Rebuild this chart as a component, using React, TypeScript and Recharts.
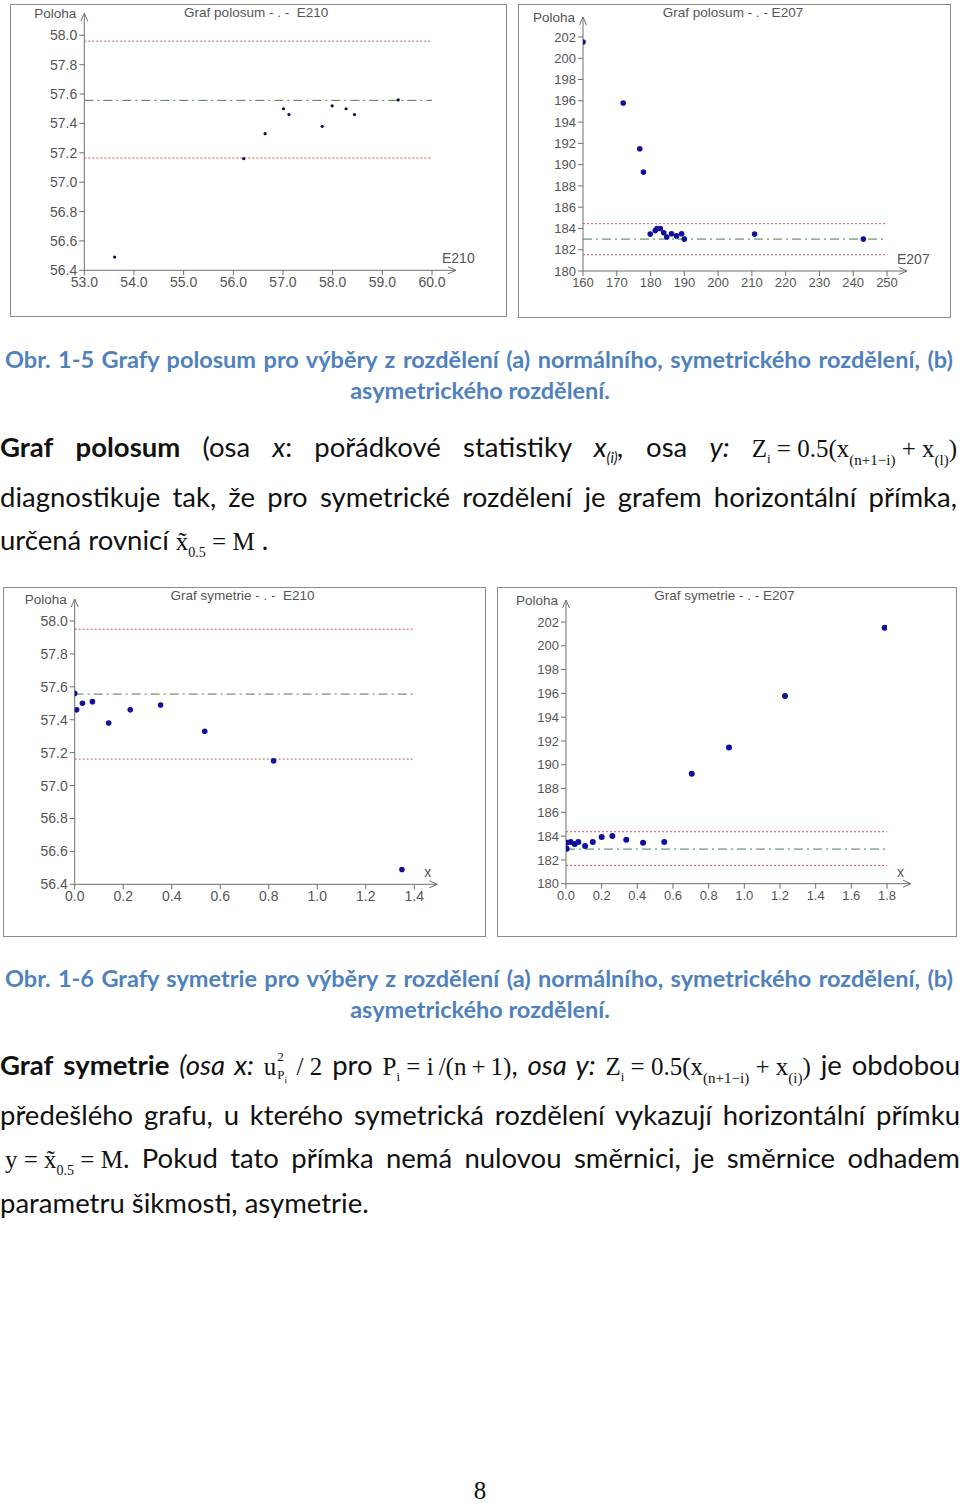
import React from 'react';
import { ScatterChart, Scatter, XAxis, YAxis, ReferenceLine } from 'recharts';

// Graf polosum, E210 (x = order statistic, y = Z_i)
const polosumE210X = [53.61, 56.21, 56.64, 57.01, 57.12, 57.79, 57.99, 58.27, 58.44, 59.32];
const polosumE210Y = [56.49, 57.16, 57.33, 57.5, 57.46, 57.38, 57.52, 57.5, 57.46, 57.56];
const polosumE210Lines = [57.96, 57.557, 57.165]; // upper, median, lower
const polosumE210XTicks = [53, 54, 55, 56, 57, 58, 59, 60];

// Graf polosum, E207
const polosumE207X = [160, 171.9, 176.8, 177.9, 179.9, 181.4, 181.9, 182.9, 183.9, 184.8, 186.2, 187.7, 189.2, 190.0, 210.8, 243.0];
const polosumE207Y = [201.53, 195.79, 191.5, 189.3, 183.47, 183.8, 184.0, 184.0, 183.6, 183.2, 183.5, 183.3, 183.5, 183.0, 183.47, 183.0];
const polosumE207Lines = [184.45, 183.0, 181.53];
const polosumE207XTicks = [160, 170, 180, 190, 200, 210, 220, 230, 240, 250];

// Graf symetrie, E210 (x = u^2/2)
const symetrieE210X = [0.0, 0.008, 0.032, 0.073, 0.14, 0.229, 0.354, 0.536, 0.82, 1.349];
const symetrieE210Y = [57.56, 57.46, 57.5, 57.51, 57.38, 57.46, 57.49, 57.33, 57.15, 56.49];
const symetrieE210Lines = [57.95, 57.556, 57.161];
const symetrieE210XTicks = [0, 0.2, 0.4, 0.6, 0.8, 1.0, 1.2, 1.4];

// Graf symetrie, E207
const symetrieE207X = [0.004, 0.005, 0.026, 0.049, 0.069, 0.107, 0.15, 0.2, 0.26, 0.338, 0.432, 0.551, 0.705, 0.914, 1.228, 1.787];
const symetrieE207Y = [182.94, 183.45, 183.5, 183.33, 183.5, 183.17, 183.5, 183.92, 184.0, 183.7, 183.45, 183.5, 189.25, 191.46, 195.78, 201.52];
const symetrieE207Lines = [184.37, 182.91, 181.54];
const symetrieE207XTicks = [0, 0.2, 0.4, 0.6, 0.8, 1.0, 1.2, 1.4, 1.6, 1.8];

const e210YTicks = [56.4, 56.6, 56.8, 57.0, 57.2, 57.4, 57.6, 57.8, 58.0];
const e207YTicks = [180, 182, 184, 186, 188, 190, 192, 194, 196, 198, 200, 202];

const AXIS = '#6e6e6e';
const LABEL = '#555';
const RED = '#cc5555';
const GREEN = '#4d7a4d';
const CHART_FONT = "'Liberation Sans', Arial, sans-serif";
const BODY = "Lato, 'Noto Sans', sans-serif";
const SERIF = "'Liberation Serif', 'Times New Roman', serif";
const CAPTION = '#4f81bd';

type Rect = [number, number, number, number]; // left, top, right, bottom (page px)

interface PanelProps {
  frame: Rect;
  plot: Rect;
  title: string;
  xLabel: string;
  xs: number[];
  ys: number[];
  lines: number[];
  xTicks: number[];
  yTicks: number[];
  xDigits: number;
  yDigits: number;
  fontSize: number;
  dotR: number;
  dotFill: string;
  yExt: number;
  xExt: number;
}

function Panel(p: PanelProps) {
  const [fl, ft, fr, fb] = p.frame;
  const [pl, pt, pr, pb] = p.plot;
  const w = fr - fl;
  const h = fb - ft;
  const yAxisW = 45;
  const xAxisH = 25;
  const data = p.xs.map((x, i) => ({ x, y: p.ys[i] }));
  const xDomain = [p.xTicks[0], p.xTicks[p.xTicks.length - 1]];
  const yDomain = [p.yTicks[0], p.yTicks[p.yTicks.length - 1]];
  const tick = { fontSize: p.fontSize, fill: LABEL, fontFamily: CHART_FONT };

  const yArrow = (s: any) => {
    const x = s.x1;
    const top = Math.min(s.y1, s.y2);
    const tip = top - p.yExt;
    return (
      <g>
        <line x1={x} y1={top} x2={x} y2={tip} stroke={AXIS} />
        <path d={`M${x - 3.5},${tip + 8} L${x},${tip} L${x + 3.5},${tip + 8}`} fill="none" stroke={AXIS} />
        <text x={x - 8} y={tip + 5} textAnchor="end" fontSize={13.5} fill={LABEL} fontFamily={CHART_FONT}>
          Poloha
        </text>
      </g>
    );
  };

  const xArrow = (s: any) => {
    const y = s.y1;
    const right = Math.max(s.x1, s.x2);
    const tip = right + p.xExt;
    return (
      <g>
        <line x1={right} y1={y} x2={tip} y2={y} stroke={AXIS} />
        <path d={`M${tip - 8},${y - 3.5} L${tip},${y} L${tip - 8},${y + 3.5}`} fill="none" stroke={AXIS} />
        <text x={right + 10} y={y - 7} fontSize={14} fill={LABEL} fontFamily={CHART_FONT}>
          {p.xLabel}
        </text>
      </g>
    );
  };

  return (
    <>
      <div
        style={{
          position: 'absolute',
          left: fl,
          top: ft,
          width: w,
          height: h,
          boxSizing: 'border-box',
          border: '1.5px solid #8c8c8c',
        }}
      />
      <div
        style={{
          position: 'absolute',
          left: (pl + pr) / 2 - 150 - 2,
          width: 300,
          top: ft + 1,
          textAlign: 'center',
          fontFamily: CHART_FONT,
          fontSize: 13.5,
          color: LABEL,
          whiteSpace: 'pre',
          lineHeight: '16px',
        }}
      >
        {p.title}
      </div>
      <div style={{ position: 'absolute', left: fl, top: ft }}>
        <ScatterChart
          width={w}
          height={h}
          margin={{
            left: pl - fl - yAxisW,
            top: pt - ft,
            right: fr - pr,
            bottom: fb - pb - xAxisH,
          }}
        >
          <XAxis
            type="number"
            dataKey="x"
            domain={xDomain}
            ticks={p.xTicks}
            interval={0}
            allowDataOverflow
            height={xAxisH}
            tickSize={5}
            stroke={AXIS}
            tick={tick}
            tickFormatter={(v: number) => v.toFixed(p.xDigits)}
          />
          <YAxis
            type="number"
            dataKey="y"
            domain={yDomain}
            ticks={p.yTicks}
            interval={0}
            allowDataOverflow
            width={yAxisW}
            tickSize={5}
            stroke={AXIS}
            tick={tick}
            tickFormatter={(v: number) => v.toFixed(p.yDigits)}
          />
          <ReferenceLine y={p.lines[0]} stroke={RED} strokeDasharray="2 2" />
          <ReferenceLine y={p.lines[1]} stroke={GREEN} strokeDasharray="9 4 2 4" />
          <ReferenceLine y={p.lines[2]} stroke={RED} strokeDasharray="2 2" />
          <ReferenceLine
            segment={[{ x: xDomain[0], y: yDomain[0] }, { x: xDomain[0], y: yDomain[1] }]}
            ifOverflow="visible"
            shape={yArrow}
          />
          <ReferenceLine
            segment={[{ x: xDomain[0], y: yDomain[0] }, { x: xDomain[1], y: yDomain[0] }]}
            ifOverflow="visible"
            shape={xArrow}
          />
          <Scatter
            data={data}
            isAnimationActive={false}
            shape={(s: any) => <circle cx={s.cx} cy={s.cy} r={p.dotR} fill={p.dotFill} />}
          />
        </ScatterChart>
      </div>
    </>
  );
}

function Line({
  top,
  size,
  children,
  left = 0,
  width = 960,
  align = 'left',
  color = '#111',
  weight = 400,
}: {
  top: number;
  size: number;
  children: React.ReactNode;
  left?: number;
  width?: number;
  align?: 'left' | 'center' | 'justify';
  color?: string;
  weight?: number;
}) {
  return (
    <div
      style={{
        position: 'absolute',
        top,
        left,
        width,
        fontFamily: BODY,
        fontSize: size,
        fontWeight: weight,
        color,
        lineHeight: `${Math.round(size * 1.25)}px`,
        textAlign: align,
        textAlignLast: align,
      }}
    >
      {children}
    </div>
  );
}

const math: React.CSSProperties = { fontFamily: SERIF, fontSize: 25, display: 'inline-block', fontStyle: 'normal', fontWeight: 400 };
const sub = (size = 15, top = 7): React.CSSProperties => ({ fontSize: size, position: 'relative', top });

const BODY_SIZE = 27.5;
const CAP_SIZE = 23.5;

export default function App() {
  return (
    <div style={{ position: 'absolute', left: 0, top: 0, width: 960, height: 1505, background: '#fff', overflow: 'hidden' }}>
      <Panel
        frame={[10, 4, 507, 317]}
        plot={[84.3, 35.3, 432, 270.3]}
        title={'Graf polosum - . -  E210'}
        xLabel="E210"
        xs={polosumE210X}
        ys={polosumE210Y}
        lines={polosumE210Lines}
        xTicks={polosumE210XTicks}
        yTicks={e210YTicks}
        xDigits={1}
        yDigits={1}
        fontSize={14}
        dotR={1.6}
        dotFill="#0a0a50"
        yExt={22}
        xExt={24}
      />
      <Panel
        frame={[518, 4, 951, 318]}
        plot={[583, 37, 887, 271]}
        title={'Graf polosum - . - E207'}
        xLabel="E207"
        xs={polosumE207X}
        ys={polosumE207Y}
        lines={polosumE207Lines}
        xTicks={polosumE207XTicks}
        yTicks={e207YTicks}
        xDigits={0}
        yDigits={0}
        fontSize={13}
        dotR={2.8}
        dotFill="#10109a"
        yExt={20}
        xExt={20}
      />
      <Panel
        frame={[3, 587, 486, 937]}
        plot={[74.7, 621, 414.3, 884.3]}
        title={'Graf symetrie - . -  E210'}
        xLabel="x"
        xs={symetrieE210X}
        ys={symetrieE210Y}
        lines={symetrieE210Lines}
        xTicks={symetrieE210XTicks}
        yTicks={e210YTicks}
        xDigits={1}
        yDigits={1}
        fontSize={14}
        dotR={2.8}
        dotFill="#10109a"
        yExt={22}
        xExt={23}
      />
      <Panel
        frame={[497, 587, 957, 937]}
        plot={[566, 622, 887, 883.7]}
        title={'Graf symetrie - . - E207'}
        xLabel="x"
        xs={symetrieE207X}
        ys={symetrieE207Y}
        lines={symetrieE207Lines}
        xTicks={symetrieE207XTicks}
        yTicks={e207YTicks}
        xDigits={1}
        yDigits={0}
        fontSize={13}
        dotR={3}
        dotFill="#10109a"
        yExt={22}
        xExt={24}
      />

      <Line top={345} left={5} width={948} size={CAP_SIZE} weight={700} color={CAPTION} align="justify">
        Obr. 1-5 Grafy polosum pro výběry z rozdělení (a) normálního, symetrického rozdělení, (b)
      </Line>
      <Line top={376} size={CAP_SIZE} weight={700} color={CAPTION} align="center">
        asymetrického rozdělení.
      </Line>

      <Line top={430} width={957} size={BODY_SIZE} align="justify">
        <b>Graf</b> <b>polosum</b> (osa <i>x</i>: pořádkové statistiky <i>x<span style={sub(15, 6)}>(i)</span>,</i> osa{' '}
        <i>y:</i>{' '}
        <span style={math}>
          Z<span style={sub(13, 6)}>i</span>&nbsp;=&nbsp;0.5(x<span style={sub(15, 8)}>(n+1−i)</span> + x
          <span style={sub(15, 8)}>(l)</span>)
        </span>
      </Line>
      <Line top={480} width={957} size={BODY_SIZE} align="justify">
        diagnostikuje tak, že pro symetrické rozdělení je grafem horizontální přímka,
      </Line>
      <Line top={523} size={BODY_SIZE}>
        určená rovnicí{' '}
        <span style={math}>
          x̃<span style={sub(14, 7)}>0.5</span>&nbsp;=&nbsp;M
        </span>{' '}
        .
      </Line>

      <Line top={964} left={5} width={948} size={CAP_SIZE} weight={700} color={CAPTION} align="justify">
        Obr. 1-6 Grafy symetrie pro výběry z rozdělení (a) normálního, symetrického rozdělení, (b)
      </Line>
      <Line top={995} size={CAP_SIZE} weight={700} color={CAPTION} align="center">
        asymetrického rozdělení.
      </Line>

      <Line top={1048} size={BODY_SIZE} align="justify">
        <b>Graf</b> <b>symetrie</b> <i>(osa x:</i>{' '}
        <span style={math}>
          u
          <span style={{ position: 'relative', display: 'inline-block', width: 14, height: 1 }}>
            <span style={{ position: 'absolute', left: 1, top: -24, fontSize: 13, lineHeight: 1 }}>2</span>
            <span style={{ position: 'absolute', left: 1, top: -6, fontSize: 13, lineHeight: 1 }}>
              P<span style={{ fontSize: 9, position: 'relative', top: 4 }}>i</span>
            </span>
          </span>
          &nbsp;/&nbsp;2
        </span>{' '}
        pro{' '}
        <span style={math}>
          P<span style={sub(13, 6)}>i</span>&nbsp;=&nbsp;i&thinsp;/(n&thinsp;+&thinsp;1)
        </span>
        , <i>osa y:</i>{' '}
        <span style={math}>
          Z<span style={sub(13, 6)}>i</span>&nbsp;=&nbsp;0.5(x<span style={sub(15, 8)}>(n+1−i)</span> + x
          <span style={sub(15, 8)}>(i)</span>)
        </span>{' '}
        je obdobou
      </Line>
      <Line top={1098} size={BODY_SIZE} align="justify">
        předešlého grafu, u kterého symetrická rozdělení vykazují horizontální přímku
      </Line>
      <Line top={1141} left={5} width={955} size={BODY_SIZE} align="justify">
        <span style={math}>
          y&nbsp;=&nbsp;x̃<span style={sub(14, 7)}>0.5</span>&nbsp;=&nbsp;M
        </span>
        . Pokud tato přímka nemá nulovou směrnici, je směrnice odhadem
      </Line>
      <Line top={1186} size={BODY_SIZE}>
        parametru šikmosti, asymetrie.
      </Line>

      <div
        style={{
          position: 'absolute',
          top: 1476,
          left: 430,
          width: 100,
          textAlign: 'center',
          fontFamily: SERIF,
          fontSize: 25,
          color: '#111',
          lineHeight: '30px',
        }}
      >
        8
      </div>
    </div>
  );
}
